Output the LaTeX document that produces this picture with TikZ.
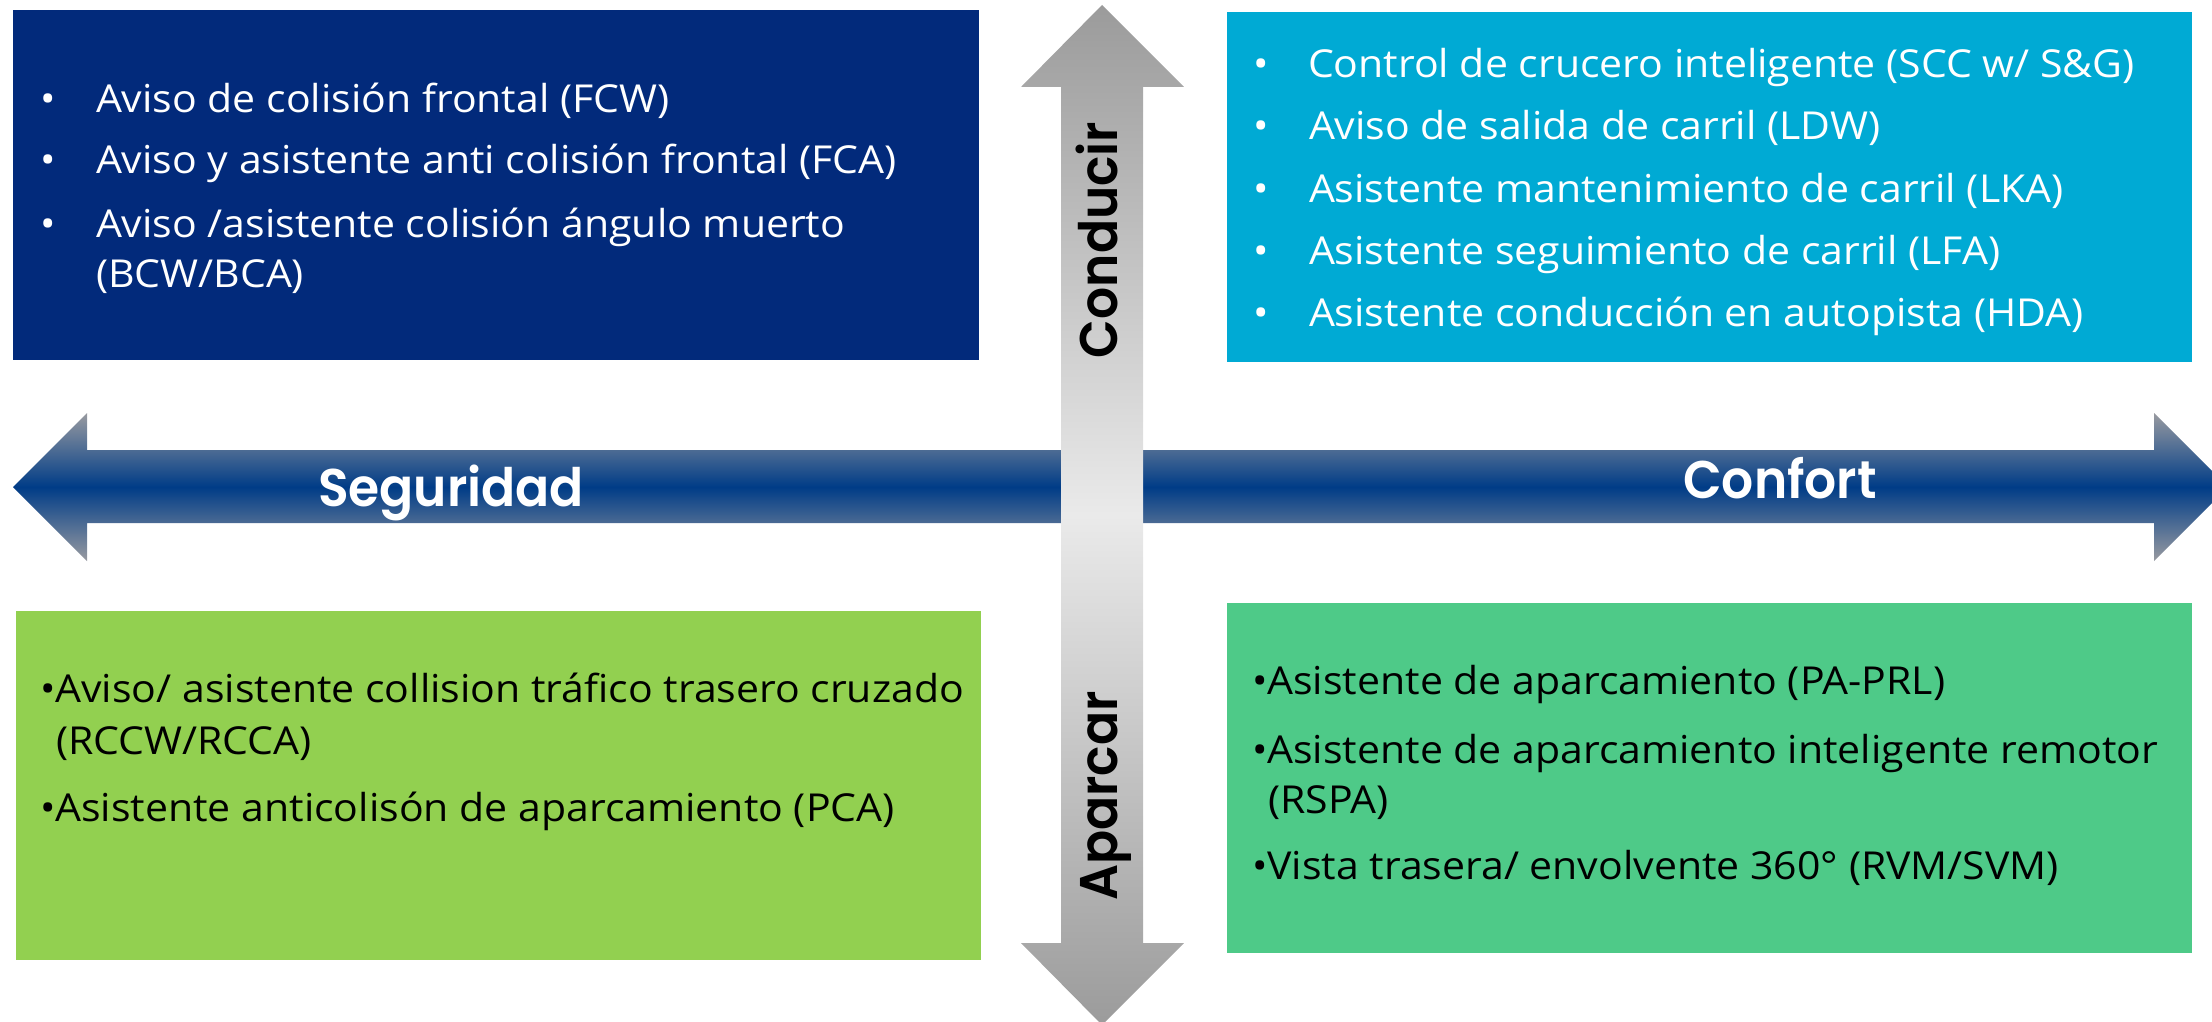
\documentclass[tikz,border=0pt]{standalone}
\usepackage{fontspec}
\newfontfamily\bodyfont[FakeStretch=1.065]{Open Sans}
\newfontfamily\labfont[FakeStretch=0.95]{Poppins SemiBold}
\definecolor{navybox}{RGB}{2,42,123}
\definecolor{cyanbox}{RGB}{0,170,212}
\definecolor{lgreenbox}{RGB}{146,208,80}
\definecolor{greenbox}{RGB}{78,202,136}
\definecolor{hgrey}{RGB}{152,154,160}
\definecolor{hblue}{RGB}{0,60,135}
\definecolor{vgrey}{RGB}{155,155,155}
\definecolor{vlight}{RGB}{234,234,234}
\tikzset{
  box/.style={anchor=north west, inner sep=0, outer sep=0, draw=none},
  bodytxt/.style={anchor=base west, inner sep=0, outer sep=0, font=\bodyfont\fontsize{38.5}{46}\selectfont},
  whitetxt/.style={bodytxt, text=white},
  blacktxt/.style={bodytxt, text=black},
  axislab/.style={anchor=base, inner sep=0, outer sep=0, font=\labfont\fontsize{53}{60}\selectfont},
}
\begin{document}
\begin{tikzpicture}[x=1pt,y=-1pt]
\useasboundingbox (0,0) rectangle (2212,1022);
\clip (0,0) rectangle (2212,1022);
% quadrant boxes
\node[box, fill=navybox, minimum width=966, minimum height=350] (tl) at (13,10) {};
\node[box, fill=cyanbox, minimum width=965, minimum height=350] (tr) at (1227,12) {};
\node[box, fill=lgreenbox, minimum width=965, minimum height=349] (bl) at (16,611) {};
\node[box, fill=greenbox, minimum width=965, minimum height=350] (br) at (1227,603) {};
% horizontal arrow
\shade[top color=hgrey, bottom color=hgrey, middle color=hblue]
  (13,487) -- (87,413) -- (87,450) -- (2154,450) -- (2154,413) -- (2228,487)
  -- (2154,561) -- (2154,523) -- (87,523) -- (87,561) -- cycle;
% vertical arrow
\shade[top color=vgrey, bottom color=vgrey, middle color=vlight]
  (1102,5) -- (1184,87) -- (1143,87) -- (1143,943) -- (1184,943) -- (1102,1025)
  -- (1021,943) -- (1061,943) -- (1061,87) -- (1021,87) -- cycle;
% axis labels
\node[axislab, text=white] (seg) at (451,506) {Seguridad};
\node[axislab, text=white] (conf) at (1780,498) {Confort};
\node[axislab, text=black, rotate=90] (cond) at (1117,240) {Conducir};
\node[axislab, text=black, rotate=90] (apar) at (1117,796) {Aparcar};
% top-left text
\node[whitetxt] (tlb1) at (40,113) {•};
\node[whitetxt] (tlt1) at (96,113) {Aviso de colisión frontal (FCW)};
\node[whitetxt] (tlb2) at (40,174) {•};
\node[whitetxt] (tlt2) at (96,174) {Aviso y asistente anti colisión frontal (FCA)};
\node[whitetxt] (tlb3) at (40,237) {•};
\node[whitetxt] (tlt3) at (96,237) {Aviso /asistente colisión ángulo muerto};
\node[whitetxt] (tlt4) at (96,287) {(BCW/BCA)};
% top-right text
\node[whitetxt] (trb1) at (1253,78) {•};
\node[whitetxt] (trt1) at (1308,78) {Control de crucero inteligente (SCC w/ S\&G)};
\node[whitetxt] (trb2) at (1253,140) {•};
\node[whitetxt] (trt2) at (1309,140) {Aviso de salida de carril (LDW)};
\node[whitetxt] (trb3) at (1253,202) {•};
\node[whitetxt] (trt3) at (1309,202) {Asistente mantenimiento de carril (LKA)};
\node[whitetxt] (trb4) at (1253,264) {•};
\node[whitetxt] (trt4) at (1309,264) {Asistente seguimiento de carril (LFA)};
\node[whitetxt] (trb5) at (1253,326) {•};
\node[whitetxt] (trt5) at (1309,326) {Asistente conducción en autopista (HDA)};
% bottom-left text
\node[blacktxt] (blt1) at (40,702) {•Aviso/ asistente collision tráfico trasero cruzado};
\node[blacktxt] (blt2) at (56,754) {(RCCW/RCCA)};
\node[blacktxt] (blt3) at (40,821) {•Asistente anticolisón de aparcamiento (PCA)};
% bottom-right text
\node[blacktxt] (brt1) at (1252,694) {•Asistente de aparcamiento (PA-PRL)};
\node[blacktxt] (brt2) at (1252,763) {•Asistente de aparcamiento inteligente remotor};
\node[blacktxt] (brt3) at (1268,813) {(RSPA)};
\node[blacktxt] (brt4) at (1252,879) {•Vista trasera/ envolvente 360° (RVM/SVM)};
\end{tikzpicture}
\end{document}
